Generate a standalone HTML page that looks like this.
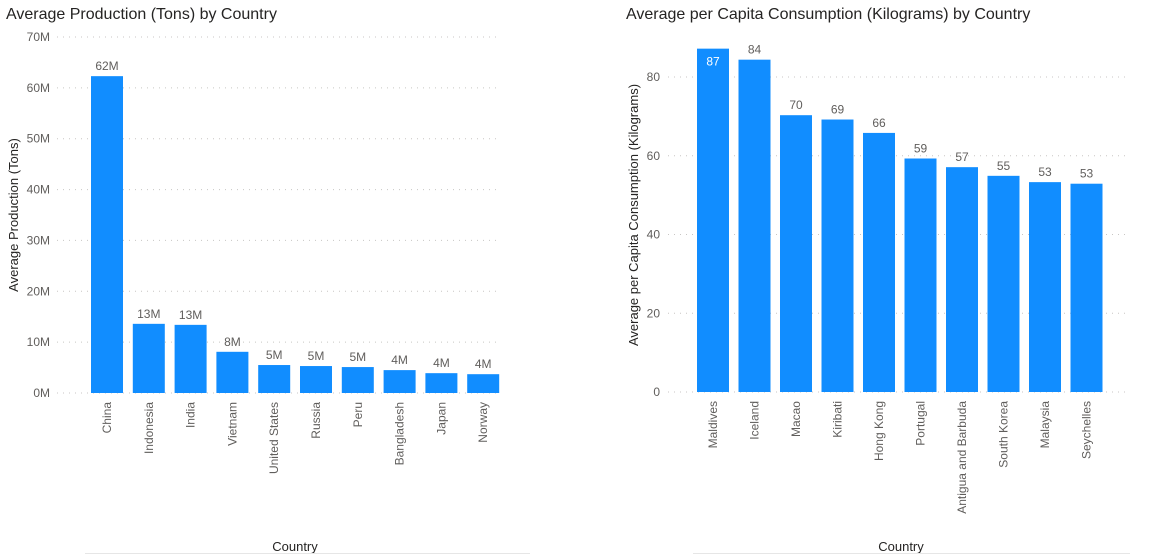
<!DOCTYPE html>
<html><head><meta charset="utf-8"><style>
body{margin:0;background:#fff;width:1152px;height:555px;overflow:hidden;font-family:"Liberation Sans","DejaVu Sans",sans-serif}
svg text{font-family:"Liberation Sans","DejaVu Sans",sans-serif}
</style></head><body>
<svg id="c" width="1152" height="555">
<text x="6" y="19" font-size="16" fill="#252423">Average Production (Tons) by Country</text>
<text x="626" y="19" font-size="16" fill="#252423">Average per Capita Consumption (Kilograms) by Country</text>
<text transform="translate(18,215) rotate(-90)" text-anchor="middle" font-size="13" fill="#252423">Average Production (Tons)</text>
<text transform="translate(638,215) rotate(-90)" text-anchor="middle" font-size="13" fill="#252423">Average per Capita Consumption (Kilograms)</text>
<text x="295" y="551" text-anchor="middle" font-size="13" fill="#252423">Country</text>
<text x="901" y="551" text-anchor="middle" font-size="13" fill="#252423">Country</text>
<line x1="85" y1="553.5" x2="530" y2="553.5" stroke="#e6e6e6"/>
<line x1="693" y1="553.5" x2="1130" y2="553.5" stroke="#e6e6e6"/>
</svg>
<script>
const prodCountries=["China","Indonesia","India","Vietnam","United States","Russia","Peru","Bangladesh","Japan","Norway"];
const prodValues=[62.3,13.6,13.4,8.1,5.5,5.3,5.1,4.5,3.9,3.7];
const prodLabels=["62M","13M","13M","8M","5M","5M","5M","4M","4M","4M"];
const prodTicks=[0,10,20,30,40,50,60,70];
const consCountries=["Maldives","Iceland","Macao","Kiribati","Hong Kong","Portugal","Antigua and Barbuda","South Korea","Malaysia","Seychelles"];
const consValues=[87.2,84.4,70.3,69.2,65.8,59.3,57.1,54.9,53.3,52.9];
const consLabels=["87","84","70","69","66","59","57","55","53","53"];
const consTicks=[0,20,40,60,80];
const NS="http://www.w3.org/2000/svg";
const svg=document.getElementById('c');
function mk(t,a,txt){const e=document.createElementNS(NS,t);for(const k in a)e.setAttribute(k,a[k]);if(txt!==undefined)e.textContent=txt;svg.appendChild(e);return e;}
function chart(o){
  const y=v=>o.y0-(v/o.max)*(o.y0-o.yTop);
  const x=i=>o.x0+i*o.step;
  o.ticks.forEach(t=>{
    const g=mk('line',{x1:o.gx1,x2:o.gx2,y1:y(t),y2:y(t),stroke:'#c8c6c4','stroke-dasharray':'1 5'});
    
    
    const l=mk('text',{x:o.tx,y:y(t)+4,'text-anchor':'end','font-size':12,fill:'#605e5c'},t+o.suf);
    
    
  });
  o.cats.forEach((c,i)=>{
    const v=o.vals[i];
    const b=mk('rect',{x:x(i)-16,y:y(v),width:32,height:o.y0-y(v),fill:'#118dff'});
    
    
    const inside=y(v)<55;
    const lb=mk('text',{x:x(i),y:inside?y(v)+17:y(v)-6,'text-anchor':'middle','font-size':12,fill:inside?'#fff':'#605e5c'},o.labels[i]);
    
    
    const xl=mk('text',{transform:`translate(${x(i)+4},${o.y0+9}) rotate(-90)`,'text-anchor':'end','font-size':12,fill:'#605e5c'},c);
    
    
  });
}
chart({cats:prodCountries,vals:prodValues,labels:prodLabels,ticks:prodTicks,suf:'M',max:70,y0:393,yTop:37,x0:107,step:41.8,gx1:57,gx2:497,tx:50});
chart({cats:consCountries,vals:consValues,labels:consLabels,ticks:consTicks,suf:'',max:80,y0:392,yTop:77,x0:713,step:41.5,gx1:668,gx2:1130,tx:660});
</script>
</body></html>
